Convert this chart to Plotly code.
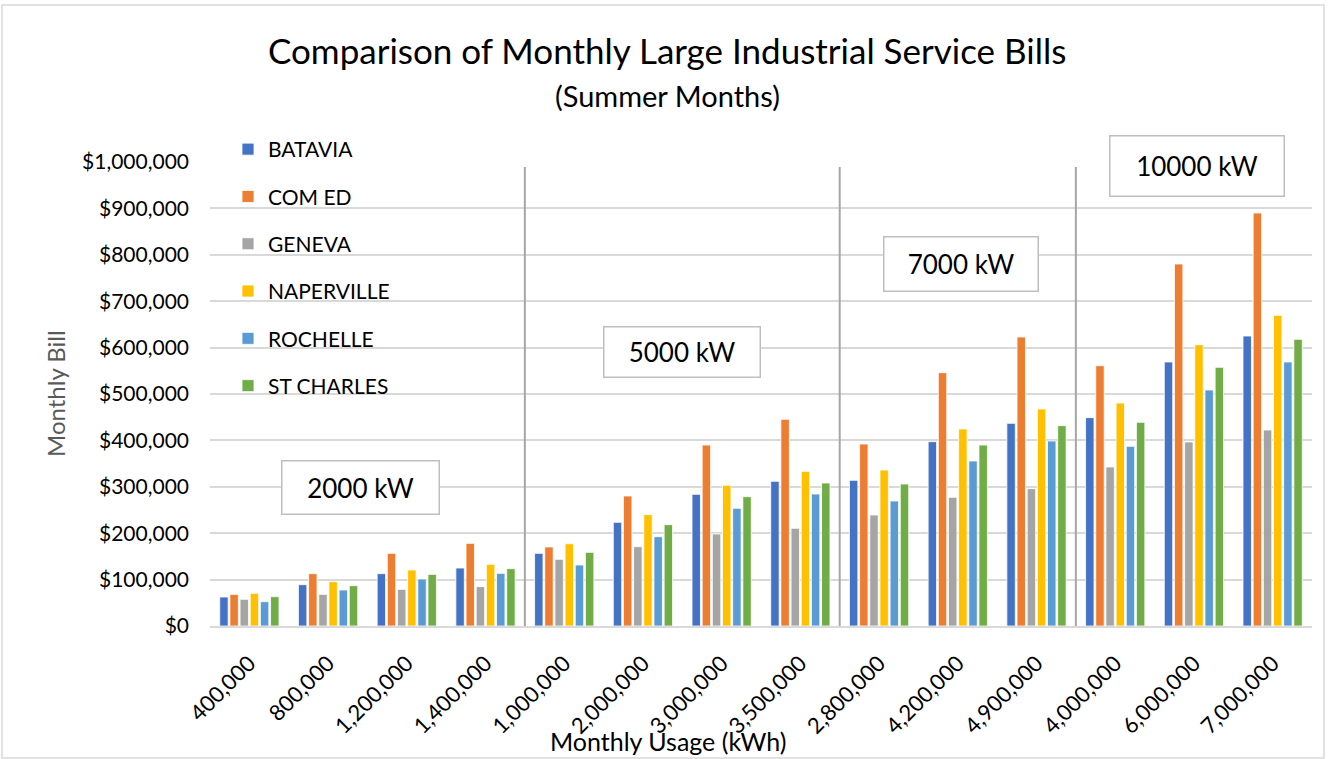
import plotly.graph_objects as go

categories = ["400,000", "800,000", "1,200,000", "1,400,000", "1,000,000", "2,000,000",
              "3,000,000", "3,500,000", "2,800,000", "4,200,000", "4,900,000",
              "4,000,000", "6,000,000", "7,000,000"]

batavia = [62500, 89000, 112800, 125000, 156600, 223400, 283800, 311800,
           314000, 397300, 436800, 449000, 569000, 625000]
comed = [68200, 112800, 156600, 178200, 170300, 280200, 390000, 445400,
         392200, 546000, 622900, 561000, 780200, 890100]
geneva = [57500, 68200, 79000, 84800, 143700, 171000, 198300, 210500,
          239200, 277300, 296000, 342700, 396600, 422400]
naperville = [70400, 95500, 120700, 132900, 177400, 240000, 303200, 333300,
              336200, 424600, 467700, 480600, 606300, 669500]
rochelle = [52400, 77600, 101300, 113500, 131500, 192500, 253600, 284500,
            269400, 355600, 398700, 387200, 508600, 569000]
st_charles = [63200, 86900, 111400, 123600, 158800, 218400, 278700, 308200,
              306000, 390000, 431800, 439000, 557500, 617800]

series_names = ["BATAVIA", "COM ED", "GENEVA", "NAPERVILLE", "ROCHELLE", "ST CHARLES"]
series_values = [batavia, comed, geneva, naperville, rochelle, st_charles]
colors = ["#4472C4", "#ED7D31", "#A5A5A5", "#FFC000", "#5B9BD5", "#70AD47"]

y_ticks = [0, 100000, 200000, 300000, 400000, 500000, 600000, 700000, 800000, 900000, 1000000]
y_tick_text = ["$0", "$100,000", "$200,000", "$300,000", "$400,000", "$500,000",
               "$600,000", "$700,000", "$800,000", "$900,000", "$1,000,000"]

# separators between demand groups (after category index)
separator_after = [3, 7, 10]
group_labels = ["2000 kW", "5000 kW", "7000 kW", "10000 kW"]

FONT = "Lato"

fig = go.Figure()
for name, vals, col in zip(series_names, series_values, colors):
    fig.add_trace(go.Bar(
        x=categories, y=vals, name=name, legendgroup=name,
        marker=dict(color=col, line=dict(color="white", width=0.8)),
    ))

# plot area geometry in pixels
L, R, T, B = 210, 1312, 162, 626
W, H = R - L, B - T

def px_x(px):
    return (px - L) / W

def px_y(py):
    return (B - py) / H

shapes = []
for idx in separator_after:
    shapes.append(dict(type="line", xref="x", yref="y",
                       x0=idx + 0.5, x1=idx + 0.5, y0=0, y1=989000,
                       line=dict(color="#A6A6A6", width=2)))

# outer chart border
shapes.append(dict(type="rect", xref="paper", yref="paper",
                   x0=px_x(2), x1=px_x(1324), y0=px_y(758), y1=px_y(5),
                   line=dict(color="#D9D9D9", width=1.5), fillcolor="rgba(0,0,0,0)",
                   layer="below"))

annotations = []
# group label boxes: (center x, center y, box width, box height) in pixels
boxes = [(360, 487, 159, 55), (682, 352, 158, 52), (961, 264, 156, 56), (1197, 166, 176, 62)]
for label, (cx, cy, bw, bh) in zip(group_labels, boxes):
    annotations.append(dict(
        text=label, xref="paper", yref="paper", x=px_x(cx), y=px_y(cy),
        xanchor="center", yanchor="middle", showarrow=False,
        width=bw - 10, height=bh - 10, align="center", valign="middle",
        font=dict(family=FONT, size=26, color="#000000"),
        bordercolor="#BFBFBF", borderwidth=1.5, borderpad=3.5, bgcolor="white",
    ))

annotations.append(dict(
    text="Comparison of Monthly Large Industrial Service Bills",
    xref="paper", yref="paper", x=px_x(667), y=px_y(50),
    xanchor="center", yanchor="middle", showarrow=False,
    font=dict(family=FONT, size=35, color="#000000")))
annotations.append(dict(
    text="(Summer Months)",
    xref="paper", yref="paper", x=px_x(667), y=px_y(95),
    xanchor="center", yanchor="middle", showarrow=False,
    font=dict(family=FONT, size=29, color="#000000")))
annotations.append(dict(
    text="Monthly Bill", textangle=-90,
    xref="paper", yref="paper", x=px_x(55), y=px_y(394),
    xanchor="center", yanchor="middle", showarrow=False,
    font=dict(family=FONT, size=24, color="#595959")))
annotations.append(dict(
    text="Monthly Usage (kWh)",
    xref="paper", yref="paper", x=px_x(668), y=px_y(741),
    xanchor="center", yanchor="middle", showarrow=False,
    font=dict(family=FONT, size=25, color="#000000")))

fig.update_layout(
    width=1328, height=759,
    margin=dict(l=L, r=1328 - R, t=T, b=759 - B, autoexpand=False),
    paper_bgcolor="white", plot_bgcolor="white",
    barmode="group", bargap=0.225, bargroupgap=0.17,
    font=dict(family=FONT, size=20, color="#000000"),
    showlegend=True,
    legend=dict(x=px_x(228), y=px_y(129), xanchor="left", yanchor="top",
                bgcolor="rgba(0,0,0,0)", tracegroupgap=17,
                font=dict(family=FONT, size=21, color="#000000"),
                itemwidth=30),
    shapes=shapes, annotations=annotations,
)
fig.update_xaxes(type="category", tickangle=-45, showgrid=False,
                 showline=True, linecolor="#D9D9D9", linewidth=1.5,
                 ticks="", ticklabelstandoff=14,
                 tickfont=dict(family=FONT, size=22, color="#000000"),
                 automargin=False)
fig.update_yaxes(range=[0, 1000000], tickvals=y_ticks, ticktext=y_tick_text,
                 showgrid=True, gridcolor="#D9D9D9", gridwidth=1.5,
                 zeroline=False, showline=False, ticks="", ticklabelstandoff=20,
                 tickfont=dict(family=FONT, size=21, color="#000000"),
                 automargin=False)

fig.write_html("out.html", config={"displayModeBar": False},
               post_script="document.body.style.margin='0';document.body.style.overflow='hidden';")
